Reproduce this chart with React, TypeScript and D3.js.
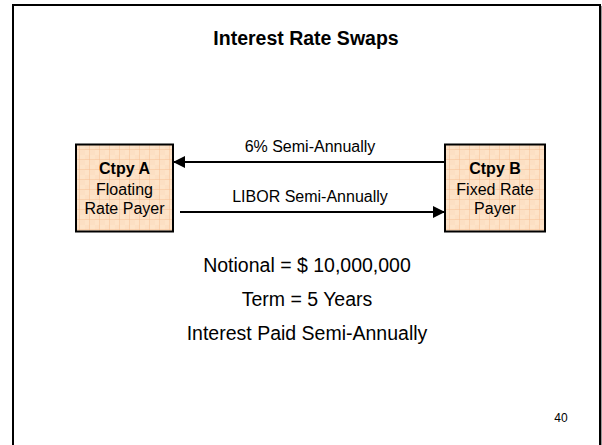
import React from "react";
import * as d3 from "d3";

const title = "Interest Rate Swaps";
const parties = [
  { id: "A", name: "Ctpy A", role: ["Floating", "Rate Payer"] },
  { id: "B", name: "Ctpy B", role: ["Fixed Rate", "Payer"] },
];
const flows = [
  { from: "B", to: "A", label: "6% Semi-Annually" },
  { from: "A", to: "B", label: "LIBOR Semi-Annually" },
];
const terms = ["Notional = $ 10,000,000", "Term = 5 Years", "Interest Paid Semi-Annually"];
const pageNumber = "40";

const W = 602;
const H = 445;
const font = "'Liberation Sans', Arial, sans-serif";

const App: React.FC = () => {
  // horizontal placement of the two parties
  const x = d3.scalePoint<string>().domain(parties.map((p) => p.id)).range([124.5, 495]);
  const boxW = [97, 100];
  const boxTop = 144.5;
  const boxH = 87;
  const flowY = d3.scalePoint<number>().domain(flows.map((_, i) => i)).range([162, 212]);
  const termY = d3.scalePoint<number>().domain(terms.map((_, i) => i)).range([272, 340]);

  const edge = (id: string, side: "l" | "r") => {
    const i = parties.findIndex((p) => p.id === id);
    return x(id)! + (side === "l" ? -boxW[i] / 2 : boxW[i] / 2);
  };

  return (
    <svg
      width={W}
      height={H}
      style={{ position: "absolute", left: 0, top: 0, background: "#fff" }}
      fontFamily={font}
    >
      <defs>
        <pattern id="grid" width="10" height="10" patternUnits="userSpaceOnUse">
          <rect width="10" height="10" fill="#fde3c8" />
          <rect x="0" y="0" width="5" height="5" fill="#fbdcbd" opacity="0.5" />
          <rect x="5" y="5" width="5" height="5" fill="#fbdcbd" opacity="0.5" />
          <path d="M10 0 V10 M0 10 H10" stroke="#f6c094" strokeWidth="1" />
        </pattern>
        <marker id="head" viewBox="0 0 10 10" refX="10" refY="5" markerWidth="12" markerHeight="12" markerUnits="userSpaceOnUse" orient="auto">
          <path d="M0 0 L10 5 L0 10 Z" fill="#000" />
        </marker>
      </defs>

      <rect x={601} y={6} width={1} height={H} fill="#999" />
      <rect x={13} y={5} width={587} height={H} fill="none" stroke="#000" strokeWidth={2} />

      <text x={306} y={45} textAnchor="middle" fontSize={19.5} fontWeight="bold">
        {title}
      </text>

      {flows.map((f, i) => {
        const y = flowY(i)!;
        const leftToRight = x(f.from)! < x(f.to)!;
        const x1 = leftToRight ? edge(f.from, "r") + 7 : edge(f.from, "l");
        const x2 = leftToRight ? edge(f.to, "l") : edge(f.to, "r");
        return (
          <g key={f.label}>
            <line x1={x1} y1={y} x2={x2} y2={y} stroke="#000" strokeWidth={2} markerEnd="url(#head)" />
            <text x={310} y={y - 10} textAnchor="middle" fontSize={16}>
              {f.label}
            </text>
          </g>
        );
      })}

      {parties.map((p, i) => {
        const cx = x(p.id)!;
        return (
          <g key={p.id}>
            <rect
              x={cx - boxW[i] / 2}
              y={boxTop}
              width={boxW[i]}
              height={boxH}
              fill="url(#grid)"
              stroke="#000"
              strokeWidth={2}
            />
            <text x={cx} y={boxTop + 29} textAnchor="middle" fontSize={16} fontWeight="bold">
              {p.name}
            </text>
            {p.role.map((r, j) => (
              <text key={r} x={cx} y={boxTop + 50.5 + j * 18.5} textAnchor="middle" fontSize={16}>
                {r}
              </text>
            ))}
          </g>
        );
      })}

      {terms.map((t, i) => (
        <text key={t} x={307} y={termY(i)!} textAnchor="middle" fontSize={19.5}>
          {t}
        </text>
      ))}

      <text x={561} y={422} textAnchor="middle" fontSize={12}>
        {pageNumber}
      </text>
    </svg>
  );
};

export default App;
